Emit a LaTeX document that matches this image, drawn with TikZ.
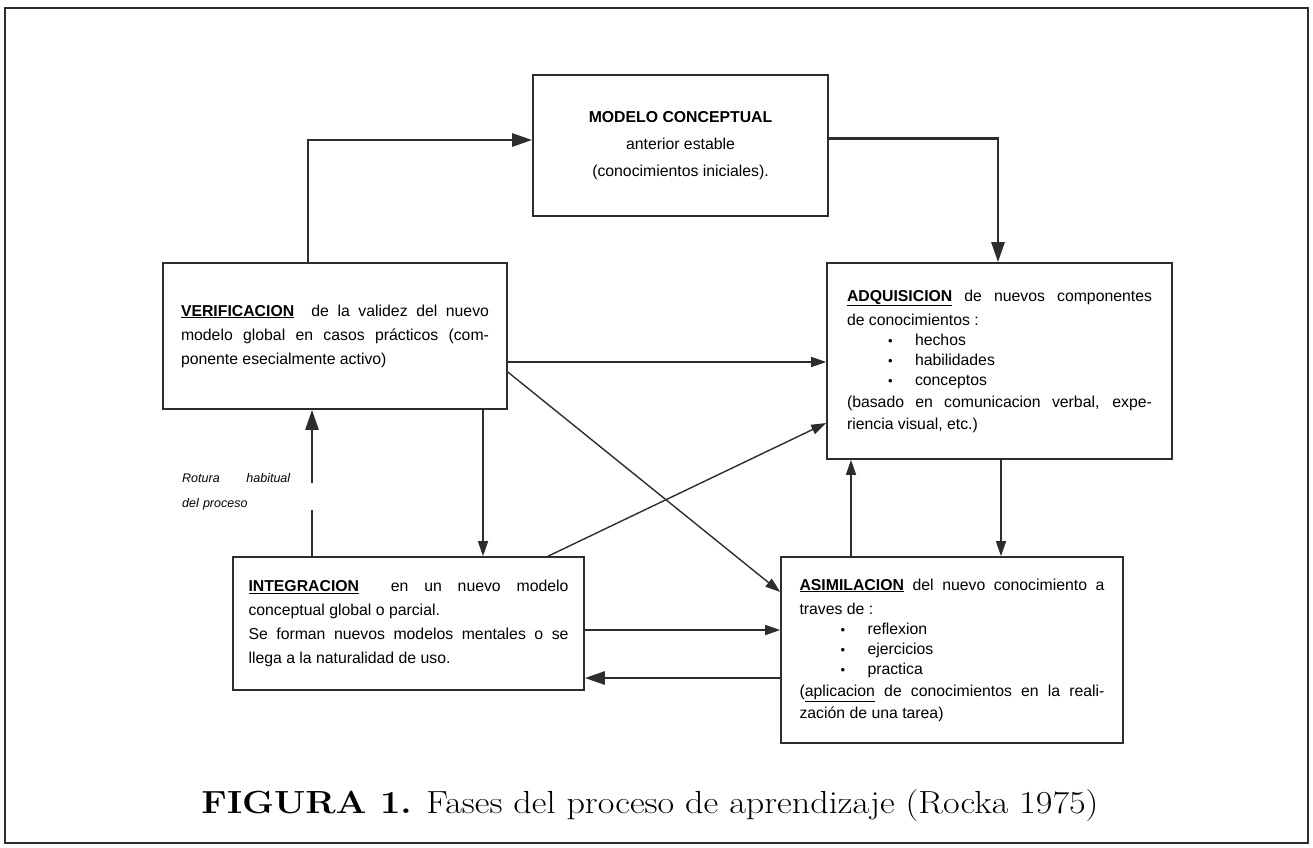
\documentclass[tikz,border=0pt]{standalone}
\usepackage{fontspec}
\usepackage{xcolor}
\usepackage{tikz}
\usetikzlibrary{arrows.meta,positioning,calc}
\newfontfamily\helv{Liberation Sans}
\definecolor{ink}{RGB}{45,45,45}
\definecolor{tipgray}{RGB}{85,85,85}
\newcommand{\bul}[1]{{\fontsize{15.8}{20}\selectfont\hspace*{41pt}\makebox[27pt][l]{\raisebox{0pt}{\fontsize{13}{13}\selectfont\textbullet}}#1\par}}
\tikzset{
  fasebox/.style={rectangle, draw=ink, line width=1.6pt, inner sep=0pt,
                  align=justify, font=\helv\fontsize{15.8}{24}\selectfont},
  arr/.style={-{Triangle[length=15pt,width=10pt]}, line width=1.4pt, draw=ink},
  arrthick/.style={-{Triangle[length=20pt,width=13pt]}, line width=2.6pt, draw=ink},
  lbl/.style={font=\helv\itshape\fontsize{12.5}{25}\selectfont, align=left,
              text width=108pt, inner sep=0pt},
}
\begin{document}
\begin{tikzpicture}[x=1pt,y=-1pt]
  \useasboundingbox (0,0) rectangle (1313,847);
  \draw[ink, line width=2pt] (5,8) rectangle (1308,843);

  % ---- phases ----
  \node[fasebox, minimum width=295pt, minimum height=141pt, align=center] (modelo) at (680.5,145.5)
    {\textbf{MODELO CONCEPTUAL}\\[3pt] anterior estable\\[3pt] (conocimientos iniciales).};
  \node[fasebox, minimum width=344pt, minimum height=146pt, text width=308pt] (verif) at (335,336)
    {\underline{\textbf{VERIFICACION}}\ \ de la validez del nuevo\linebreak
     modelo global en casos prácticos (com-\linebreak ponente esecialmente activo)};
  \node[fasebox, minimum width=345pt, minimum height=196pt, text width=305pt] (adq) at (999.5,361)
    {\underline{\textbf{ADQUISICION}} de nuevos componentes\linebreak de conocimientos :\par
     \bul{hechos}\bul{habilidades}\bul{conceptos}%
     {\fontsize{15.8}{22}\selectfont(basado en comunicacion verbal, expe-\linebreak riencia visual, etc.)\par}};
  \node[fasebox, minimum width=351pt, minimum height=133pt, text width=320pt] (integ) at (408.5,623.5)
    {\underline{\textbf{INTEGRACION}}\ \ en un nuevo modelo\linebreak conceptual global o parcial.\par
     Se forman nuevos modelos mentales o se\linebreak llega a la naturalidad de uso.};
  \node[fasebox, minimum width=342pt, minimum height=186pt, text width=305pt] (asim) at (952,650)
    {\underline{\textbf{ASIMILACION}} del nuevo conocimiento a\linebreak traves de :\par
     \bul{reflexion}\bul{ejercicios}\bul{practica}%
     {\fontsize{15.8}{22}\selectfont(\underline{aplicacion} de conocimientos en la reali-\linebreak zación de una tarea)\par}};

  % ---- connectors ----
  \draw[arrthick] ([xshift=-27pt]verif.north) |- ([yshift=5.5pt]modelo.west);
  \draw[arrthick] ([yshift=7pt]modelo.east) -| ([xshift=-1.5pt]adq.north);
  \draw[arr] ([yshift=-26pt]verif.east) coordinate (v1) -- (v1 -| adq.west);
  \draw[arr] ([yshift=-36pt]verif.east) -- ([yshift=58pt]asim.west);
  \draw[arr] ([xshift=148pt]verif.south) coordinate (v2) -- (v2 |- integ.north);
  \draw[arr] ([xshift=139.5pt]integ.north) -- ([yshift=-62pt]adq.west);
  \draw[arr] ([yshift=-6.5pt]integ.east) coordinate (i1) -- (i1 -| asim.west);
  \draw[arrthick] ([yshift=-28pt]asim.west) coordinate (a1) -- (a1 -| integ.east);
  \draw[arr] ([xshift=1.5pt]adq.south) coordinate (q1) -- (q1 |- asim.north);
  \draw[arr] ([xshift=-101pt]asim.north) coordinate (a2) -- (a2 |- adq.south);

  % broken return path
  \coordinate (gaplo) at (312,510);
  \coordinate (gaphi) at (312,483);
  \draw[ink, line width=2.2pt] ([xshift=-96.5pt]integ.north) -- (gaplo);
  \draw[arrthick] (gaphi) -- (gaphi |- verif.south);
  \node[lbl, anchor=north west] (rotura) at (182,473) {Rotura\hfill habitual\\del proceso};

  % ---- caption ----
  \node[anchor=base, font=\fontsize{32}{36}\selectfont, inner sep=0pt] (caption) at (650,813)
    {\scalebox{1.13}[1]{\textbf{FIGURA 1.} Fases del proceso de aprendizaje (Rocka 1975)}};
\end{tikzpicture}
\end{document}
